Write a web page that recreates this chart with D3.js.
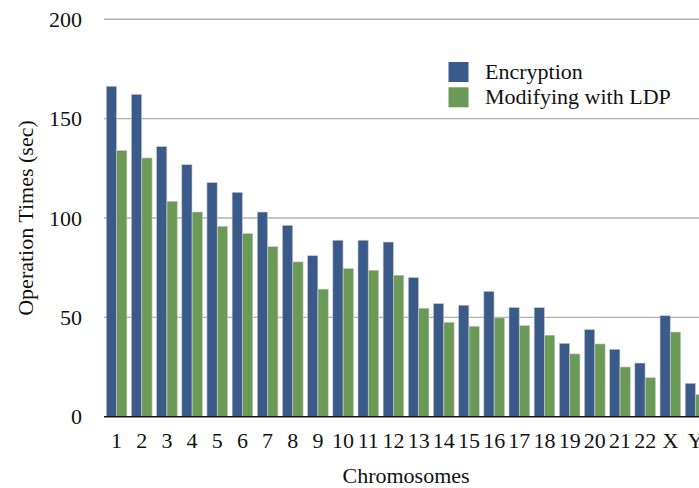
<!DOCTYPE html>
<html>
<head>
<meta charset="utf-8">
<script src="https://cdn.jsdelivr.net/npm/d3@7"></script>
<style>
  html, body { margin: 0; padding: 0; background: #fff; }
  svg { display: block; }
  text { font-family: "Liberation Serif", "Times New Roman", serif; fill: #111; }
</style>
</head>
<body>
<svg id="chart" width="699" height="488"></svg>
<script>
const categories = ["1","2","3","4","5","6","7","8","9","10","11","12","13","14","15","16","17","18","19","20","21","22","X","Y"];
const seriesNames = ["Encryption", "Modifying with LDP"];
const encryption = [166.3,162.2,135.9,126.8,117.8,112.9,103.0,96.3,81.0,88.8,88.8,87.9,70.0,56.9,56.1,63.1,54.9,54.9,36.9,43.8,33.9,27.0,50.8,16.8];
const modifying  = [133.9,130.2,108.4,103.0,95.8,92.1,85.6,77.9,64.2,74.5,73.7,71.2,54.6,47.5,45.5,49.7,45.8,41.0,31.6,36.6,25.0,19.6,42.6,11.1];
const yTicks = [0, 50, 100, 150, 200];
const colors = ["#3a5a8a", "#6b9a56"];

(function () {
const svg = d3.select("#chart");
const mLeft = 104, mTop = 19.3, mBottom = 416.7;
const step = 25.17;
const mRight = mLeft + step * categories.length;

const x = d3.scaleBand().domain(categories).range([mLeft, mRight])
  .paddingInner(0.166).paddingOuter(0.083);
const xs = d3.scaleBand().domain(seriesNames).range([0, x.bandwidth()]).padding(0.02);
const y = d3.scaleLinear().domain([0, 200]).range([mBottom, mTop]);

// gridlines
svg.append("g").selectAll("line").data(yTicks.filter(d => d > 0)).join("line")
  .attr("x1", mLeft).attr("x2", 699)
  .attr("y1", d => y(d)).attr("y2", d => y(d))
  .attr("stroke", "#b0b0b0").attr("stroke-width", 1.4);

// y tick labels
svg.append("g").selectAll("text").data(yTicks).join("text")
  .attr("x", 82).attr("y", d => y(d) + 7.5)
  .attr("text-anchor", "end")
  .style("font-size", "22px")
  .text(d => d);

// bars
const series = [encryption, modifying];
series.forEach((vals, si) => {
  svg.append("g").selectAll("rect").data(vals).join("rect")
    .attr("x", (d, i) => x(categories[i]) + xs(seriesNames[si]))
    .attr("width", xs.bandwidth())
    .attr("y", d => y(d))
    .attr("height", d => mBottom - y(d))
    .attr("fill", colors[si])
    .attr("stroke", "#c4c4c4").attr("stroke-width", 0.6);
});

// x axis line
svg.append("line").attr("x1", mLeft).attr("x2", 699)
  .attr("y1", mBottom).attr("y2", mBottom)
  .attr("stroke", "#111").attr("stroke-width", 1.5);

// x tick labels
svg.append("g").selectAll("text").data(categories).join("text")
  .attr("x", d => x(d) + x.bandwidth() / 2)
  .attr("y", 448)
  .attr("text-anchor", "middle")
  .style("font-size", "22px")
  .text(d => d);

// axis titles
svg.append("text").attr("x", (mLeft + mRight) / 2).attr("y", 483)
  .attr("text-anchor", "middle").style("font-size", "22px").text("Chromosomes");
svg.append("text")
  .attr("transform", `translate(33, ${(mTop + mBottom) / 2}) rotate(-90)`)
  .attr("text-anchor", "middle").style("font-size", "22px").text("Operation Times (sec)");

// legend
const legend = svg.append("g");
seriesNames.forEach((name, i) => {
  legend.append("rect").attr("x", 448.5).attr("y", 62 + i * 25.3)
    .attr("width", 20).attr("height", 20).attr("fill", colors[i]);
  legend.append("text").attr("x", 485).attr("y", 79.3 + i * 24.5)
    .style("font-size", "22px").text(name);
});
})();
</script>
</body>
</html>
